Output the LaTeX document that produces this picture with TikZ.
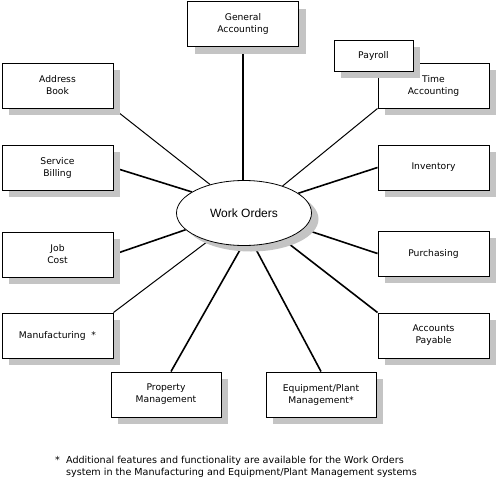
\documentclass[tikz,border=0pt]{standalone}
\usepackage{fontspec}
\newfontfamily\boxfont{DejaVu Sans}
\newfontfamily\wofont{Liberation Sans}
\usetikzlibrary{shadows,backgrounds,shapes.geometric}
\definecolor{shadowgray}{RGB}{196,196,196}
\tikzset{
  box/.style={draw=black, line width=1pt, fill=white, rectangle, inner sep=0pt,
    minimum width=111pt, minimum height=45pt, align=center,
    font=\fontsize{9.2}{12}\selectfont\boxfont,
    drop shadow={shadow xshift=7pt, shadow yshift=-7pt, fill=shadowgray, opacity=1}},
  hub/.style={draw=black, line width=0.8pt, fill=white, ellipse, inner sep=0pt,
    minimum width=135pt, minimum height=65pt,
    font=\fontsize{12}{14}\selectfont\wofont,
    drop shadow={shadow xshift=7pt, shadow yshift=-6pt, fill=shadowgray, opacity=1}},
  thickline/.style={line width=1.6pt},
  thinline/.style={line width=1pt},
  note/.style={anchor=west, align=left, inner sep=0pt, font=\fontsize{9.6}{12}\selectfont\boxfont}
}
\begin{document}
\begin{tikzpicture}[x=1pt,y=-1pt]
\useasboundingbox (0,0) rectangle (499,480);
\node[box] (ga) at (243,24) {General\\Accounting};
\node[box] (ab) at (57.5,85.5) {Address\\Book};
\node[box] (sb) at (57.5,167.5) {Service\\Billing};
\node[box] (jc) at (57.5,254.5) {Job\\Cost};
\node[box] (mf) at (57.5,335.5) {Manufacturing~~*};
\node[box, minimum width=110pt] (pm) at (166,394.5) {Property\\Management};
\node[box, minimum width=110pt] (ep) at (321,394.5) {Equipment/Plant\\Management*};
\node[box] (ap) at (433.5,335.5) {Accounts\\Payable};
\node[box] (pu) at (433.5,253.5) {Purchasing};
\node[box] (iv) at (433.5,167.5) {Inventory};
\node[box] (ta) at (433.5,85.5) {Time\\Accounting};
\node[box, minimum width=79pt, minimum height=31pt] (pr) at (373.5,55.5) {Payroll};
\node[hub] (wo) at (244,213) {Work Orders};
\node[note] (fn) at (55,467) {\begin{tabular}{@{}l@{\ \ }l@{}}*&Additional features and functionality are available for the Work Orders\\ &system in the Manufacturing and Equipment/Plant Management systems\end{tabular}};
\begin{pgfonlayer}{background}
\draw[thickline] (ga.south) -- (ga.south |- wo.north);
\draw[thinline] (ab.south east) -- (wo.140);
\draw[thickline] (sb.east) -- (wo.158);
\draw[thickline] (jc.east) -- (wo.196);
\draw[thinline] (mf.north east) -- (wo.218);
\draw[thickline] ([xshift=5pt]pm.north) -- (wo.267);
\draw[thickline] (ep.north) -- (wo.287);
\draw[thickline] (ap.north west) -- (wo.326);
\draw[thickline] (pu.west) -- (wo.345);
\draw[thickline] (iv.west) -- (wo.20);
\draw[thinline] (ta.south west) -- (wo.35);
\end{pgfonlayer}
\end{tikzpicture}
\end{document}
